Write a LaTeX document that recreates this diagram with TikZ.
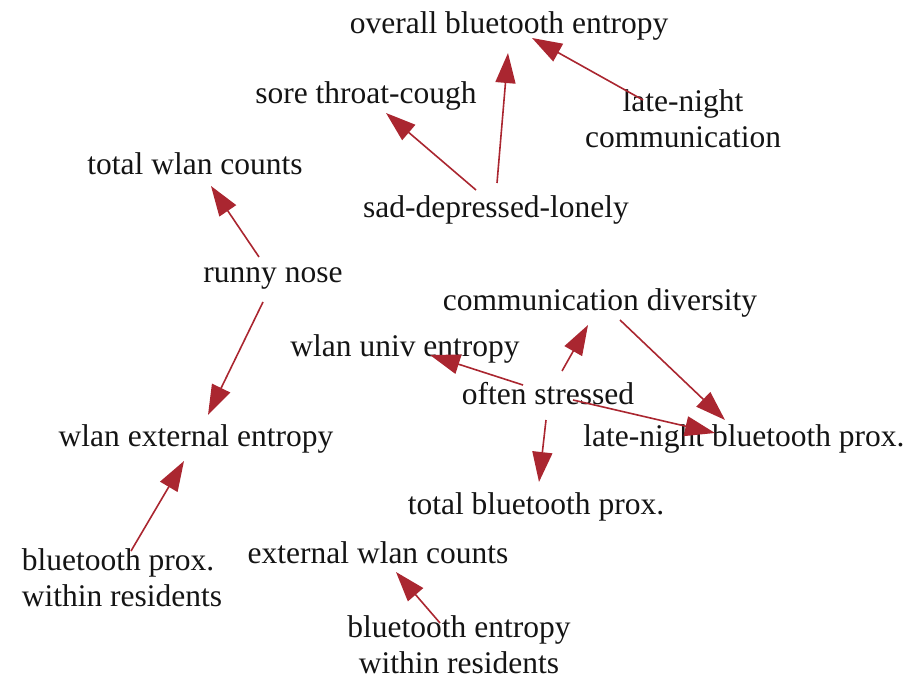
\documentclass[tikz,border=0pt]{standalone}
\usepackage{fontspec}
\setmainfont{Liberation Serif}
\usetikzlibrary{arrows.meta,calc}
\definecolor{edgered}{RGB}{170,38,48}
\tikzset{
  lbl/.style={inner sep=0pt, outer sep=0pt, font=\fontsize{31.5}{36}\selectfont, text=black!92},
  edge/.style={draw=edgered, line width=1.6pt, -{Triangle[length=30pt,width=20pt]}}
}
\begin{document}
\begin{tikzpicture}[x=1pt,y=-1pt]
\useasboundingbox (0,0) rectangle (923,676);
\node[lbl,anchor=base] (overall) at (509,34) {overall bluetooth entropy};
\node[lbl,anchor=base] (sore) at (366,104) {sore throat-cough};
\node[lbl,align=center] (latecomm) at (683,119) {late-night\\communication};
\node[lbl,anchor=base] (totwlan) at (195,175) {total wlan counts};
\node[lbl,anchor=base] (sad) at (496,218) {sad-depressed-lonely};
\node[lbl,anchor=base] (runny) at (273,282) {runny nose};
\node[lbl,anchor=base] (commdiv) at (600,310) {communication diversity};
\node[lbl,anchor=base] (wlanuniv) at (405,356) {wlan univ entropy};
\node[lbl,anchor=base] (often) at (548,404) {often stressed};
\node[lbl,anchor=base] (wlanext) at (196,446) {wlan external entropy};
\node[lbl,anchor=base] (latebt) at (744,446) {late-night bluetooth prox.};
\node[lbl,anchor=base] (totbt) at (536,514) {total bluetooth prox.};
\node[lbl,align=left] (btprox) at (122,578) {bluetooth prox.\\within residents};
\node[lbl,anchor=base] (extwlan) at (378,563) {external wlan counts};
\node[lbl,align=center] (btent) at (459,645) {bluetooth entropy\\within residents};

\draw[edge] ($(sad.base)+(-20,-28)$) -- ($(sore.base)+(20,9)$);
\draw[edge] ($(sad.base)+(1,-35)$) -- ($(overall.base)+(-1,19)$);
\draw[edge] ($(latecomm.center)+(-40,-19)$) -- ($(overall.base)+(23,4)$);
\draw[edge] ($(runny.base)+(-14,-25)$) -- ($(totwlan.base)+(16,11)$);
\draw[edge] ($(runny.base)+(-10,20)$) -- ($(wlanext.base)+(12,-31)$);
\draw[edge] ($(btprox.center)+(9,-27)$) -- ($(wlanext.base)+(-12,15)$);
\draw[edge] ($(btent.center)+(-19,-22)$) -- ($(extwlan.base)+(18,9)$);
\draw[edge] ($(often.base)+(14,-33)$) -- ($(commdiv.base)+(-12,15)$);
\draw[edge] ($(often.base)+(-25,-19)$) -- ($(wlanuniv.base)+(25,-1)$);
\draw[edge] ($(often.base)+(25,-4)$) -- ($(latebt.base)+(-29,-13)$);
\draw[edge] ($(commdiv.base)+(20,10)$) -- ($(latebt.base)+(-19,-26)$);
\draw[edge] ($(often.base)+(-2,16)$) -- ($(totbt.base)+(3,-32)$);
\end{tikzpicture}
\end{document}
